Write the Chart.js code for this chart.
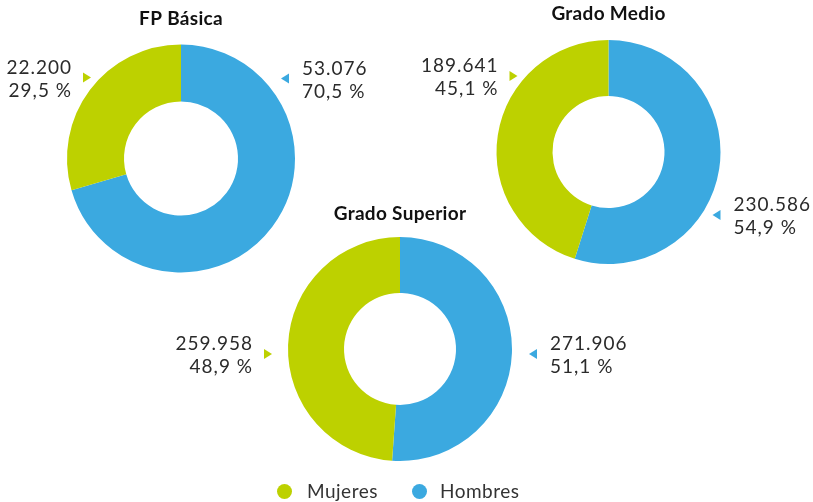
<!DOCTYPE html>
<html>
<head>
<meta charset="utf-8">
<script src="https://cdn.jsdelivr.net/npm/chart.js@4/dist/chart.umd.min.js"></script>
<style>
  body { margin: 0; width: 813px; height: 502px; background: #fff; position: relative; overflow: hidden; font-family: Lato, "Open Sans", sans-serif; }
  canvas { position: absolute; left: 0; top: 0; }
  .leg { position: absolute; top: 480px; font-size: 19px; color: #333; line-height: 22px; letter-spacing: 0.5px; }
  .dot { position: absolute; width: 15px; height: 15px; border-radius: 50%; top: 484px; }
</style>
</head>
<body>
<canvas id="c0" width="813" height="502"></canvas>
<canvas id="c1" width="813" height="502"></canvas>
<canvas id="c2" width="813" height="502"></canvas>
<div class="dot" style="left:277px;background:#BDD100"></div>
<div class="leg" style="left:307px">Mujeres</div>
<div class="dot" style="left:412px;background:#3BA9E0"></div>
<div class="leg" style="left:440px">Hombres</div>
<script>
// datos
const titles = ['FP Básica', 'Grado Medio', 'Grado Superior'];
const seriesNames = ['Hombres', 'Mujeres'];
const hombres = [53076, 230586, 271906];
const mujeres = [22200, 189641, 259958];

const COLORS = { Hombres: '#3BA9E0', Mujeres: '#BDD100' };
const W = 813, H = 502;

// centro, radio y posición de las etiquetas (triángulo) relativas al centro
const layouts = [
  { cx: 181, cy: 158.5, r: 114, titleDy: -26, lab: { Mujeres: [-94, -81], Hombres: [104, -80] } },
  { cx: 608.5, cy: 152, r: 112, titleDy: -26, lab: { Mujeres: [-95, -76], Hombres: [108, 63] } },
  { cx: 400, cy: 349, r: 112, titleDy: -23, lab: { Mujeres: [-132, 5], Hombres: [133, 5] } }
];

const fmt = n => String(n).replace(/\B(?=(\d{3})+(?!\d))/g, '.');
const pct = (v, t) => (v / t * 100).toFixed(1).replace('.', ',') + ' %';

const labelsPlugin = {
  id: 'labels',
  afterDraw(chart) {
    const cfg = chart.options.plugins.labels;
    const arc = chart.getDatasetMeta(0).data[0];
    if (!arc) return;
    const { x, y, outerRadius } = arc;
    const ctx = chart.ctx;
    ctx.save();
    ctx.fillStyle = '#111';
    ctx.font = 'bold 19px Lato, "Open Sans", sans-serif';
    ctx.letterSpacing = '0.3px';
    ctx.textAlign = 'center';
    ctx.textBaseline = 'middle';
    ctx.fillText(cfg.title, x, y - outerRadius + cfg.titleDy);

    const data = chart.data.datasets[0].data;
    const total = data.reduce((a, b) => a + b, 0);
    ctx.font = '19px Lato, "Open Sans", sans-serif';
    ctx.letterSpacing = '1px';
    ctx.textBaseline = 'alphabetic';
    chart.data.labels.forEach((name, i) => {
      const [dx, dy] = cfg.lab[name];
      const tx = x + dx, ty = y + dy;
      ctx.fillStyle = COLORS[name];
      ctx.beginPath();
      if (name === 'Mujeres') {
        ctx.moveTo(tx - 4, ty - 5); ctx.lineTo(tx + 4, ty); ctx.lineTo(tx - 4, ty + 5);
      } else {
        ctx.moveTo(tx + 4, ty - 5); ctx.lineTo(tx - 4, ty); ctx.lineTo(tx + 4, ty + 5);
      }
      ctx.closePath();
      ctx.fill();
      ctx.fillStyle = '#2b2b2b';
      const lines = [fmt(data[i]), pct(data[i], total)];
      if (name === 'Mujeres') {
        ctx.textAlign = 'right';
        ctx.fillText(lines[0], tx - 15, ty - 4);
        ctx.fillText(lines[1], tx - 15, ty + 19);
      } else {
        ctx.textAlign = 'left';
        ctx.fillText(lines[0], tx + 17, ty - 4);
        ctx.fillText(lines[1], tx + 17, ty + 19);
      }
    });
    ctx.restore();
  }
};

titles.forEach((t, k) => {
  const L = layouts[k];
  new Chart(document.getElementById('c' + k), {
    type: 'doughnut',
    data: {
      labels: seriesNames,
      datasets: [{
        data: [hombres[k], mujeres[k]],
        backgroundColor: seriesNames.map(s => COLORS[s]),
        borderWidth: 0
      }]
    },
    options: {
      responsive: false,
      animation: false,
      cutout: '50%',
      layout: { padding: { left: L.cx - L.r, right: W - L.cx - L.r, top: L.cy - L.r, bottom: H - L.cy - L.r } },
      plugins: {
        legend: { display: false },
        tooltip: { enabled: false },
        labels: { title: t, titleDy: L.titleDy, lab: L.lab }
      }
    },
    plugins: [labelsPlugin]
  });
});
</script>
</body>
</html>
